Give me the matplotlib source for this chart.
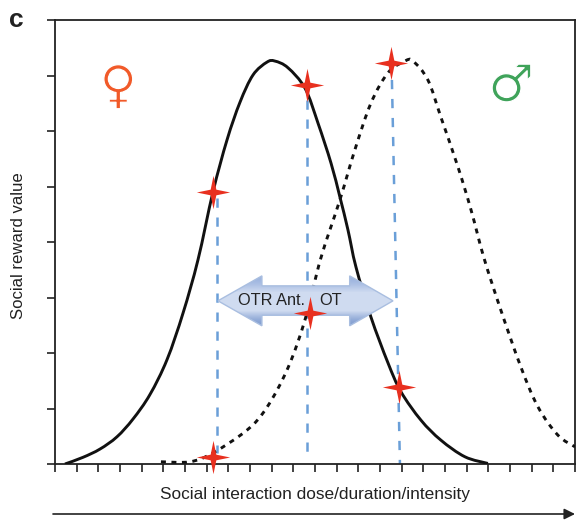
import numpy as np
import matplotlib
matplotlib.use('Agg')
import matplotlib.pyplot as plt
import matplotlib.patheffects as pe
from matplotlib.patches import Polygon, PathPatch
from matplotlib.path import Path

plt.rcParams['font.family'] = ['Liberation Sans', 'DejaVu Sans']

# curves, x in tick steps, y in tick steps
female_x = [0.46, 1.29, 2.08, 2.86, 3.60, 4.38, 5.17, 5.91, 6.60, 7.29, 7.94, 8.54, 9.14, 9.78, 10.15,
            10.75, 11.54, 12.14, 12.74, 13.15, 13.52, 13.89, 14.58, 15.37, 15.97, 16.89, 17.81, 18.92, 19.98]
female_y = [0.0, 0.12, 0.27, 0.49, 0.81, 1.25, 1.88, 2.72, 3.68, 4.90, 5.84, 6.52, 7.01, 7.24, 7.26,
            7.14, 6.77, 6.14, 5.42, 4.81, 4.22, 3.55, 2.65, 1.82, 1.30, 0.79, 0.43, 0.13, 0.01]
male_x = [4.89, 6.23, 7.29, 8.86, 9.78, 10.75, 11.54, 12.27, 13.15, 13.84, 14.58, 15.37, 16.15, 16.52,
          17.21, 17.81, 18.60, 19.20, 19.80, 20.58, 21.50, 22.29, 23.21, 24.0]
male_y = [0.04, 0.04, 0.20, 0.61, 1.02, 1.73, 2.60, 3.71, 4.76, 5.66, 6.50, 7.05, 7.26, 7.26,
          6.92, 6.25, 5.35, 4.58, 3.71, 2.77, 1.75, 1.03, 0.52, 0.31]

star_x = [7.29, 11.63, 15.50, 11.77, 15.87, 7.29]
star_y = [4.90, 6.83, 7.23, 2.72, 1.39, 0.13]

# blue guides: (x top, y top, x bottom, y bottom)
guides = [(7.48, 4.80, 7.48, 0.20),
          (11.63, 6.56, 11.63, 0.10),
          (15.55, 6.92, 15.92, 0.0)]

# double arrow outline
arrow_x = [7.52, 9.55, 9.55, 13.60, 13.60, 15.60, 13.60, 13.60, 9.55, 9.55]
arrow_y = [2.94, 3.39, 3.21, 3.21, 3.39, 2.94, 2.49, 2.68, 2.68, 2.49]

x_ticks = np.arange(0, 25)
y_ticks = np.arange(0, 9)


# bezier path through the read points so the line is not faceted
def smooth_path(xs, ys):
    p = np.column_stack([xs, ys])
    verts = [p[0]]
    codes = [Path.MOVETO]
    for i in range(len(p)-1):
        a = p[max(i-1, 0)]
        b = p[i]
        c = p[i+1]
        d = p[min(i+2, len(p)-1)]
        verts += [b+(c-a)/6, c-(d-b)/6, c]
        codes += [Path.CURVE4, Path.CURVE4, Path.CURVE4]
    return Path(verts, codes)


fig = plt.figure(figsize=(5.76, 5.2), dpi=100)
ax = fig.add_axes([55/576, 1-464/520, 520/576, 444/520])

ax.add_patch(PathPatch(smooth_path(female_x, female_y), facecolor='none', edgecolor='#111111', lw=2.1, zorder=3))
ax.add_patch(PathPatch(smooth_path(male_x, male_y), facecolor='none', edgecolor='#111111', lw=2.1,
                       linestyle=(0, (1.7, 1.9)), zorder=3))

for g in guides:
    ax.plot([g[0], g[2]], [g[1], g[3]], color='#6A9FD8', lw=1.8, linestyle=(0, (3.7, 3.9)), zorder=2)

# arrow with gradient fill
poly = Polygon(np.column_stack([arrow_x, arrow_y]), closed=True, facecolor='none',
               edgecolor='#A9BEE0', lw=1.0, zorder=5)
ax.add_patch(poly)
grad = np.array([[0.0], [0.45], [0.5], [1.0]])
cmap = matplotlib.colors.LinearSegmentedColormap.from_list('arrow', ['#9AB2DE', '#CFDBF0', '#CFDBF0', '#7F9CD0'])
im = ax.imshow(grad, extent=[7.5, 15.6, 2.49, 3.39], origin='upper', cmap=cmap, aspect='auto', zorder=4,
               interpolation='bicubic')
im.set_clip_path(poly)

ax.text(9.97, 2.94, 'OTR Ant.', ha='center', va='center', fontsize=11.7, color='#222222', zorder=6)
ax.text(12.74, 2.94, 'OT', ha='center', va='center', fontsize=11.7, color='#222222', zorder=6)

star = [(0, 1), (0.17, 0.17), (1, 0), (0.17, -0.17), (0, -1), (-0.17, -0.17), (-1, 0), (-0.17, 0.17)]
ax.plot(star_x, star_y, linestyle='none', marker=star, markersize=24, color='#E8301F',
        markeredgewidth=0, zorder=7, clip_on=False)

# white stroke on top thins the glyphs down to the line weight of the reference
thin = [pe.Stroke(linewidth=0.9, foreground='white')]
ax.text(2.92, 6.77, '\u2640', ha='center', va='center', fontsize=37, color='#F15A29',
        family='DejaVu Sans', path_effects=thin)
ax.text(21.05, 6.79, '\u2642', ha='center', va='center', fontsize=37, color='#3FA35A',
        family='DejaVu Sans', path_effects=thin)

ax.set_xlim(0, 24)
ax.set_ylim(0, 8)
ax.set_xticks(x_ticks)
ax.set_yticks(y_ticks)
ax.set_xticklabels([])
ax.set_yticklabels([])
ax.tick_params(axis='both', direction='out', length=6, width=1.2, color='#222222')
for s in ax.spines.values():
    s.set_linewidth(1.3)
    s.set_color('#222222')

fig.text(16/576, 1-20/520, 'c', fontsize=19, fontweight='bold', ha='center', va='center', color='#222222')
fig.text(19/576, 1-246/520, 'Social reward value', rotation=90, fontsize=12.1, ha='center', va='center', color='#222222')
fig.text(315/576, 1-495/520, 'Social interaction dose/duration/intensity', fontsize=12.4, ha='center', va='center', color='#222222')
ax.annotate('', xy=(575/576, 1-514/520), xytext=(53/576, 1-514/520), xycoords='figure fraction',
            textcoords='figure fraction', arrowprops=dict(arrowstyle='-|>', color='#222222', lw=1.2, mutation_scale=16,
                                                          shrinkA=0, shrinkB=0))

fig.savefig('out.png', dpi=100)
